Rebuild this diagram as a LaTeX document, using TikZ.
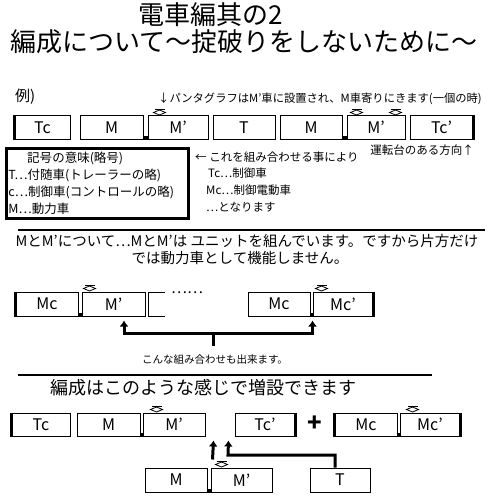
\documentclass[tikz,border=0pt]{standalone}
\usepackage{fontspec}
\setmainfont{Noto Sans CJK JP}
\usetikzlibrary{arrows.meta,positioning,calc}
\tikzset{
  car/.style={draw, line width=1pt, minimum width=60pt, minimum height=23pt, inner sep=0pt, font=\fontsize{16}{16}\selectfont},
  cab/.style={line width=3pt},
  coupler/.style={fill=black},
  txt/.style={anchor=west, inner sep=0pt, font=\fontsize{12}{14}\selectfont},
  small/.style={txt, font=\fontsize{11.5}{13}\selectfont},
  arrow/.style={-{Latex[length=6pt,width=9pt]}, line width=3pt},
  rule/.style={line width=2.5pt},
  panto/.pic={
    \draw[line width=0.8pt] (-5,-6.5) -- (5,-6.5);
    \draw[line width=0.8pt] (-6,-3) -- (0,-5.5) -- (6,-3) -- (0,-0.5) -- cycle;
  }
}

\begin{document}
\begin{tikzpicture}[x=1pt, y=-1pt]
  \useasboundingbox (0,0) rectangle (500,500);
  % title
  \node[font=\fontsize{26}{28}\selectfont, inner sep=0pt] (title) at (211,15) {電車編其の2};
  \node[font=\fontsize{26}{28}\selectfont, inner sep=0pt] (subtitle) at (244,42) {編成について～掟破りをしないために～};

  % example train
  \node[txt, font=\fontsize{15}{16}\selectfont] (rei) at (15,97) {例)};
  \node[txt, font=\fontsize{11.3}{13}\selectfont] (pantnote) at (158,99) {↓パンタグラフはM’車に設置され、M車寄りにきます(一個の時)};
  \node[car, minimum width=55pt] (tcA) at (42.5,127.5) {Tc};
  \node[car, minimum width=63pt] (mA) at (111.5,127.5) {M};
  \node[car, minimum width=60pt] (mpA) at (178,127.5) {M’};
  \node[car, minimum width=62pt] (tA) at (244,127.5) {T};
  \node[car, minimum width=62pt] (mB) at (311,127.5) {M};
  \node[car, minimum width=58pt] (mpB) at (376,127.5) {M’};
  \node[car, minimum width=63pt] (tcpA) at (441.5,127.5) {Tc’};
  \draw[cab] (tcA.north west) -- (tcA.south west);
  \draw[cab] (tcpA.north east) -- (tcpA.south east);
  \fill[coupler] (mA.south east) rectangle ([yshift=4pt]mpA.south west);
  \fill[coupler] (mB.south east) rectangle ([yshift=4pt]mpB.south west);
  \pic at ([xshift=12pt]mpA.north west) {panto};
  \pic at ([xshift=10pt]mpB.north west) {panto};
  \pic at ([xshift=-10pt]mpB.north east) {panto};
  \node[small, anchor=east] (cabnote) at (474,150) {運転台のある方向↑};

  % legend
  \node[draw, line width=3pt, anchor=north west, text width=178pt, minimum height=70pt, inner sep=2pt, align=left,
    font=\fontsize{12.5}{17}\selectfont] (key) at (5,147)
    {\hspace{1.5em}記号の意味(略号)\\T⋯付随車(トレーラーの略)\\c⋯制御車(コントロールの略)\\M⋯動力車};
  \node[small] (combnote) at (195,157) {← これを組み合わせる事により};
  \node[small] (tcnote) at (208,173) {Tc⋯制御車};
  \node[small] (mcnote) at (206,190) {Mc⋯制御電動車};
  \node[small] (endnote) at (206,207) {⋯となります};

  % unit
  \draw[rule] (18,230) -- (485,230);
  \node[font=\fontsize{14.5}{16}\selectfont, inner sep=0pt] (unitnote) at (247,241) {MとM’について⋯MとM’は ユニットを組んでいます。ですから片方だけ};
  \node[font=\fontsize{14.5}{16}\selectfont, inner sep=0pt] (unitnoteb) at (240,258) {では動力車として機能しません。};

  \node[car, minimum width=62pt, minimum height=24pt] (mcA) at (47,304) {Mc};
  \node[car, minimum width=63pt, minimum height=24pt] (mpC) at (113.5,304) {M’};
  \draw[line width=1pt] (165,292) -| (148,316) -- (165,316);
  \node[txt, font=\fontsize{15}{16}\selectfont] (dots) at (171,293) {……};
  \node[car, minimum width=62pt, minimum height=24pt] (mcB) at (279,304) {Mc};
  \node[car, minimum width=60pt, minimum height=24pt] (mcpB) at (343,304) {Mc’};
  \draw[cab] (mcA.north west) -- (mcA.south west);
  \draw[cab] (mcpB.north east) -- (mcpB.south east);
  \fill[coupler] (mcA.south east) rectangle ([yshift=4pt]mpC.south west);
  \fill[coupler] (mcB.south east) rectangle ([yshift=4pt]mcpB.south west);
  \pic at ([xshift=8pt]mpC.north west) {panto};
  \pic at ([xshift=9pt]mcpB.north west) {panto};
  \node[inner sep=0pt, font=\fontsize{10.5}{12}\selectfont] (combo) at (215,360) {こんな組み合わせも出来ます。};
  \coordinate (fork) at (213,333);
  \draw[line width=3pt] ([xshift=-2pt,yshift=9pt]combo.north) -- (fork);
  \draw[arrow] (fork) -| ([xshift=10.5pt,yshift=-4pt]mpC.south);
  \draw[arrow] (fork) -| ([xshift=2pt,yshift=-4pt]mcB.south east);

  % extension
  \draw[rule] (18,375) -- (432,375);
  \node[txt, font=\fontsize{18}{20}\selectfont] (addnote) at (50,388) {編成はこのような感じで増設できます};
  \node[car, minimum width=58pt] (tcC) at (41,424.5) {Tc};
  \node[car, minimum width=63pt] (mC) at (108.5,424.5) {M};
  \node[car, minimum width=62pt] (mpD) at (174,424.5) {M’};
  \node[car, minimum width=60pt] (tcpC) at (265,424.5) {Tc’};
  \node[inner sep=0pt, font=\bfseries\fontsize{24}{24}\selectfont] (plus) at (315,424) {+};
  \node[car, minimum width=62pt] (mcC) at (366,424.5) {Mc};
  \node[car, minimum width=60pt] (mcpC) at (430,424.5) {Mc’};
  \draw[cab] (tcC.north west) -- (tcC.south west);
  \draw[cab] (tcpC.north east) -- (tcpC.south east);
  \draw[cab] (mcC.north west) -- (mcC.south west);
  \draw[cab] (mcpC.north east) -- (mcpC.south east);
  \fill[coupler] (mC.south east) rectangle ([yshift=4pt]mpD.south west);
  \fill[coupler] (mcC.south east) rectangle ([yshift=4pt]mcpC.south west);
  \pic at ([xshift=14pt]mpD.north west) {panto};
  \pic at ([xshift=13pt]mcpC.north west) {panto};

  \node[car, minimum width=62pt, minimum height=24pt] (mE) at (176,480) {M};
  \node[car, minimum width=61pt, minimum height=24pt] (mpE) at (241.5,480) {M’};
  \node[car, minimum width=60pt, minimum height=24pt] (tE) at (340,480) {T};
  \fill[coupler] (mE.south east) rectangle ([yshift=4pt]mpE.south west);
  \pic at ([xshift=11pt]mpE.north west) {panto};
  \coordinate (bend) at (228,455);
  \draw[arrow] ([xshift=2pt,yshift=8pt]mpE.north west) -- ([xshift=8pt,yshift=-4pt]mpD.south east);
  \draw[arrow] ([xshift=-5pt]tE.north) |- (bend) -- ([xshift=23pt,yshift=-4pt]mpD.south east);
\end{tikzpicture}
\end{document}
